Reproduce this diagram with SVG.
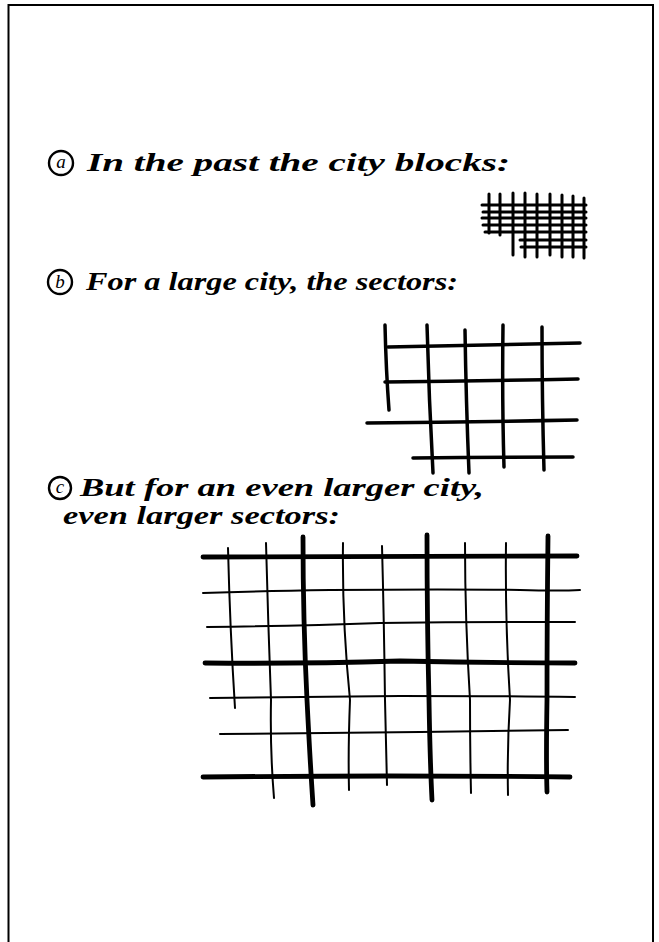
<svg xmlns="http://www.w3.org/2000/svg" width="659" height="942" viewBox="0 0 659 942">
<style>
.t{font-family:"Liberation Serif",serif;font-style:italic;font-weight:bold;font-size:25px;fill:#000}
.cl{font-family:"Liberation Serif",serif;font-style:italic;font-size:19px;fill:#000}
.c{fill:none;stroke:#000;stroke-width:2.4}
.ga{fill:none;stroke:#000;stroke-width:3;stroke-linecap:round}
.gb{fill:none;stroke:#000;stroke-width:3.5;stroke-linecap:round}
.thin{fill:none;stroke:#000;stroke-width:2;stroke-linecap:round}
.thick{fill:none;stroke:#000;stroke-width:4.8;stroke-linecap:round}
</style>
<rect x="0" y="0" width="659" height="942" fill="#fff"/>
<path d="M8.5 950 V5 H653 V950" fill="none" stroke="#000" stroke-width="2"/>

<g id="label-a">
<circle class="c" cx="61" cy="163" r="12"/>
<text class="cl" x="61" y="168" text-anchor="middle">a</text>
<text class="t" x="87" y="171" textLength="423" lengthAdjust="spacingAndGlyphs">In the past the city blocks:</text>
</g>

<g id="grid-a">
<path class="ga" d="M482 205 H586 M483 212 H586 M482 218 H586 M483 225 H586 M485 232 H586 M520 240 H586 M521 247 H586"/>
<path class="ga" d="M489 194 V233 M500 194 V235 M513 193 V255 M525 193 V257 M537 194 V257 M550 194 V255 M562 195 V257 M573 196 V257 M584 198 V258"/>
</g>

<g id="label-b">
<circle class="c" cx="60" cy="282" r="12"/>
<text class="cl" x="60" y="288" text-anchor="middle">b</text>
<text class="t" x="86" y="290" textLength="372" lengthAdjust="spacingAndGlyphs">For a large city, the sectors:</text>
</g>

<g id="grid-b">
<path class="gb" d="M388 347 Q480 345 580 343 M385 382 Q480 381 578 379 M367 423 Q470 422 577 420 M413 458 Q490 457 573 457"/>
<path class="gb" d="M385 325 Q386 370 389 410 M427 325 Q429 400 433 473 M465 330 Q466 400 469 473 M503 325 Q502 400 504 467 M542 327 Q542 400 544 470"/>
</g>

<g id="label-c">
<circle class="c" cx="60" cy="488" r="11"/>
<text class="cl" x="60" y="493" text-anchor="middle">c</text>
<text class="t" x="80" y="496" textLength="404" lengthAdjust="spacingAndGlyphs">But for an even larger city,</text>
<text class="t" x="63" y="524" textLength="277" lengthAdjust="spacingAndGlyphs">even larger sectors:</text>
</g>

<g id="grid-c">
<path class="thick" d="M203 557 Q390 556 577 556 M205 663 Q300 664 400 661 Q490 663 575 663 M203 777 Q390 775 570 777"/>
<path class="thin" d="M203 593 Q260 591 330 590 Q450 589 520 590 Q560 591 580 590 M207 627 Q300 626 380 623 Q480 622 575 622 M210 698 Q300 697 400 696 Q500 696 575 697 M220 734 Q350 733 420 732 Q500 731 568 730"/>
<path class="thin" d="M228 548 Q230 630 235 708 M266 543 Q268 620 271 700 Q270 750 274 798 M343 543 Q342 620 350 700 Q348 750 349 790 M382 546 Q384 620 385 700 Q386 750 387 785 M465 543 Q465 620 470 700 Q470 750 471 793 M506 543 Q505 620 510 700 Q507 750 508 795"/>
<path class="thick" d="M303 537 Q303 620 307 700 Q310 760 313 805 M427 535 Q427 620 429 700 Q430 760 432 800 M548 536 Q547 620 547 700 Q546 760 547 792"/>
</g>
</svg>
